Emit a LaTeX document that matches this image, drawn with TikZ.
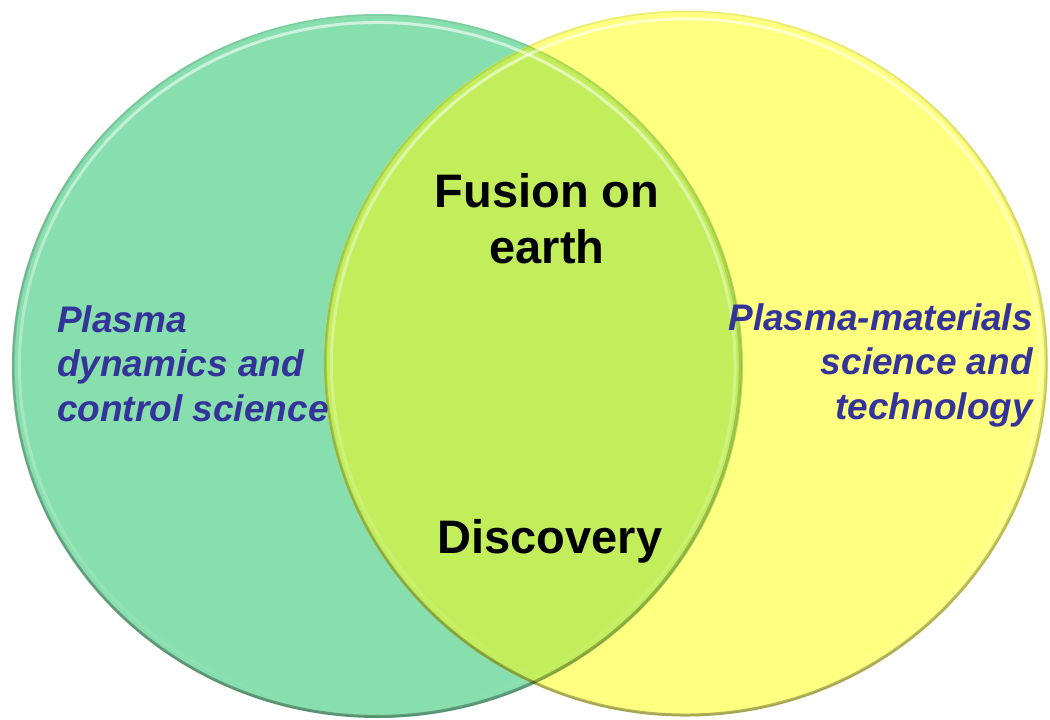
\documentclass[tikz,border=0pt]{standalone}
\usepackage{fontspec}
\setmainfont{Liberation Sans}
\usetikzlibrary{fadings}
\definecolor{greenc}{RGB}{136,223,174}
\definecolor{yellowc}{RGB}{255,255,128}
\definecolor{interc}{RGB}{194,238,91}
\definecolor{bluetxt}{RGB}{51,51,153}
\tikzset{
  bigtxt/.style={inner sep=0pt, font=\fontsize{47}{56}\selectfont\bfseries, text=black, align=center},
  sidetxt/.style={inner sep=0pt, font=\fontsize{37}{44.5}\selectfont\bfseries\itshape, text=bluetxt},
  rimdark/.style={draw=black, draw opacity=0.3, line width=3pt, path fading=north},
  rimlight/.style={draw=white, draw opacity=0.6, line width=3pt, path fading=south},
}
\begin{document}
\begin{tikzpicture}[x=1pt,y=-1pt]
\useasboundingbox (0,0) rectangle (1050,720);
\coordinate (cl) at (377.5,366);
\coordinate (cr) at (686,363.5);
% green circle
\fill[greenc] (cl) ellipse [x radius=365.5, y radius=352];
% yellow circle
\fill[yellowc] (cr) ellipse [x radius=362, y radius=353];
% intersection
\begin{scope}
  \clip (cl) ellipse [x radius=365.5, y radius=352];
  \fill[interc] (cr) ellipse [x radius=362, y radius=353];
\end{scope}
% rims: darker towards the bottom
\draw[rimdark] (cl) ellipse [x radius=364, y radius=350.5];
\draw[rimdark] (cr) ellipse [x radius=360.5, y radius=351.5];
\draw[draw=black, draw opacity=0.08, line width=1.5pt] (cl) ellipse [x radius=364.5, y radius=351];
\draw[draw=black, draw opacity=0.08, line width=1.5pt] (cr) ellipse [x radius=361, y radius=352];
% rims: light highlight towards the top
\draw[rimlight] (cl) ellipse [x radius=358, y radius=344];
\draw[rimlight] (cr) ellipse [x radius=354.5, y radius=345];
% texts
\node[bigtxt, anchor=north] (fusion) at (547,173) {Fusion on\\earth};
\node[bigtxt, anchor=base] (disc) at (550,553) {Discovery};
\node[sidetxt, anchor=north west, align=left] (left) at (57,305) {Plasma\\dynamics and\\control science};
\node[sidetxt, anchor=north east, align=right] (right) at (1033,303) {Plasma-materials\\science and\\technology};
\end{tikzpicture}
\end{document}
